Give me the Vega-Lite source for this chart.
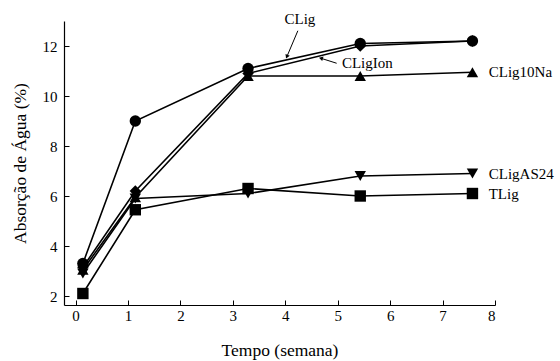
{
  "$schema": "https://vega.github.io/schema/vega-lite/v6.json",
  "width": 431,
  "height": 284,
  "autosize": "none",
  "padding": {"left": 64, "top": 21, "right": 65, "bottom": 56},
  "background": "white",
  "config": {
    "font": "Liberation Serif",
    "view": {"stroke": null},
    "axis": {
      "domainColor": "black",
      "domainWidth": 1.2,
      "tickColor": "black",
      "tickWidth": 1,
      "labelColor": "black",
      "titleColor": "black",
      "labelFont": "Liberation Serif",
      "titleFont": "Liberation Serif",
      "labelFontSize": 15,
      "titleFontSize": 17.5,
      "titleFontWeight": "normal",
      "grid": false
    }
  },
  "datasets": {
    "series": [
      {"serie": "CLig", "t": 0.14, "v": 3.3},
      {"serie": "CLig", "t": 1.14, "v": 9.0},
      {"serie": "CLig", "t": 3.29, "v": 11.1},
      {"serie": "CLig", "t": 5.43, "v": 12.1},
      {"serie": "CLig", "t": 7.57, "v": 12.2},
      {"serie": "CLigIon", "t": 0.14, "v": 3.15},
      {"serie": "CLigIon", "t": 1.14, "v": 6.2},
      {"serie": "CLigIon", "t": 3.29, "v": 10.9},
      {"serie": "CLigIon", "t": 5.43, "v": 12.0},
      {"serie": "CLigIon", "t": 7.57, "v": 12.2},
      {"serie": "CLig10Na", "t": 0.14, "v": 3.05},
      {"serie": "CLig10Na", "t": 1.14, "v": 5.95},
      {"serie": "CLig10Na", "t": 3.29, "v": 10.8},
      {"serie": "CLig10Na", "t": 5.43, "v": 10.8},
      {"serie": "CLig10Na", "t": 7.57, "v": 10.95},
      {"serie": "CLigAS24", "t": 0.14, "v": 2.9},
      {"serie": "CLigAS24", "t": 1.14, "v": 5.9},
      {"serie": "CLigAS24", "t": 3.29, "v": 6.1},
      {"serie": "CLigAS24", "t": 5.43, "v": 6.8},
      {"serie": "CLigAS24", "t": 7.57, "v": 6.9},
      {"serie": "TLig", "t": 0.14, "v": 2.1},
      {"serie": "TLig", "t": 1.14, "v": 5.45},
      {"serie": "TLig", "t": 3.29, "v": 6.3},
      {"serie": "TLig", "t": 5.43, "v": 6.0},
      {"serie": "TLig", "t": 7.57, "v": 6.1}
    ],
    "labels": [
      {"label": "CLig", "t": 4.28, "v": 13.1, "side": "center"},
      {"label": "CLigIon", "t": 5.08, "v": 11.33, "side": "left"},
      {"label": "CLig10Na", "t": 7.88, "v": 10.95, "side": "left"},
      {"label": "CLigAS24", "t": 7.88, "v": 6.9, "side": "left"},
      {"label": "TLig", "t": 7.88, "v": 6.1, "side": "left"}
    ],
    "arrows": [
      {"label": "CLig", "t": 4.24, "v": 12.61, "t2": 4.03, "v2": 11.57},
      {"label": "CLigIon", "t": 4.98, "v": 11.31, "t2": 4.68, "v2": 11.51}
    ]
  },
  "layer": [
    {
      "data": {"name": "series"},
      "mark": {"type": "line", "color": "black", "strokeWidth": 1.6},
      "encoding": {
        "x": {"field": "t", "type": "quantitative",
              "scale": {"domain": [-0.22, 8], "nice": false, "zero": false},
              "axis": {"orient": "bottom",
                       "values": [0, 0.5, 1, 1.5, 2, 2.5, 3, 3.5, 4, 4.5, 5, 5.5, 6, 6.5, 7, 7.5, 8],
                       "labelExpr": "datum.value % 1 === 0 ? format(datum.value, 'd') : ''",
                       "labelOverlap": false,
                       "tickSize": {"condition": {"test": "datum.value % 1 !== 0", "value": -3}, "value": -5},
                       "labelPadding": 8, "title": "Tempo (semana)", "titlePadding": 18}},
        "y": {"field": "v", "type": "quantitative",
              "scale": {"domain": [1.64, 13], "nice": false, "zero": false},
              "axis": {"orient": "left",
                       "values": [2, 3, 4, 5, 6, 7, 8, 9, 10, 11, 12, 13],
                       "labelExpr": "datum.value % 2 === 0 ? format(datum.value, 'd') : ''",
                       "labelOverlap": false,
                       "tickSize": {"condition": {"test": "datum.value % 2 === 1", "value": -3}, "value": -5},
                       "labelPadding": 12, "title": "Absorção de Água (%)", "titlePadding": 13}},
        "detail": {"field": "serie"}
      }
    },
    {
      "data": {"name": "series"},
      "mark": {"type": "point", "filled": true, "opacity": 1, "color": "black"},
      "encoding": {
        "x": {"field": "t", "type": "quantitative"},
        "y": {"field": "v", "type": "quantitative"},
        "shape": {"field": "serie", "type": "nominal",
                  "scale": {"domain": ["CLig", "CLigIon", "CLig10Na", "CLigAS24", "TLig"],
                            "range": ["circle", "diamond", "triangle-up", "triangle-down", "square"]},
                  "legend": null},
        "size": {"field": "serie", "type": "nominal",
                 "scale": {"domain": ["CLig", "CLigIon", "CLig10Na", "CLigAS24", "TLig"],
                           "range": [130, 130, 110, 110, 85]},
                 "legend": null}
      }
    },
    {
      "data": {"name": "arrows"},
      "mark": {"type": "rule", "color": "black", "strokeWidth": 1},
      "encoding": {
        "x": {"field": "t", "type": "quantitative"},
        "y": {"field": "v", "type": "quantitative"},
        "x2": {"field": "t2"},
        "y2": {"field": "v2"}
      }
    },
    {
      "data": {"name": "arrows"},
      "transform": [{"filter": "datum.label === 'CLig'"}],
      "mark": {"type": "point", "shape": "triangle-up", "filled": true, "color": "black", "opacity": 1, "size": 22, "angle": 203.5},
      "encoding": {
        "x": {"field": "t2", "type": "quantitative"},
        "y": {"field": "v2", "type": "quantitative"}
      }
    },
    {
      "data": {"name": "arrows"},
      "transform": [{"filter": "datum.label === 'CLigIon'"}],
      "mark": {"type": "point", "shape": "triangle-up", "filled": true, "color": "black", "opacity": 1, "size": 22, "angle": 287},
      "encoding": {
        "x": {"field": "t2", "type": "quantitative"},
        "y": {"field": "v2", "type": "quantitative"}
      }
    },
    {
      "data": {"name": "labels"},
      "transform": [{"filter": "datum.side === 'left'"}],
      "mark": {"type": "text", "align": "left", "baseline": "middle", "fontSize": 15, "font": "Liberation Serif", "color": "black"},
      "encoding": {
        "x": {"field": "t", "type": "quantitative"},
        "y": {"field": "v", "type": "quantitative"},
        "text": {"field": "label"}
      }
    },
    {
      "data": {"name": "labels"},
      "transform": [{"filter": "datum.side === 'center'"}],
      "mark": {"type": "text", "align": "center", "baseline": "middle", "fontSize": 15, "font": "Liberation Serif", "color": "black"},
      "encoding": {
        "x": {"field": "t", "type": "quantitative"},
        "y": {"field": "v", "type": "quantitative"},
        "text": {"field": "label"}
      }
    }
  ]
}
